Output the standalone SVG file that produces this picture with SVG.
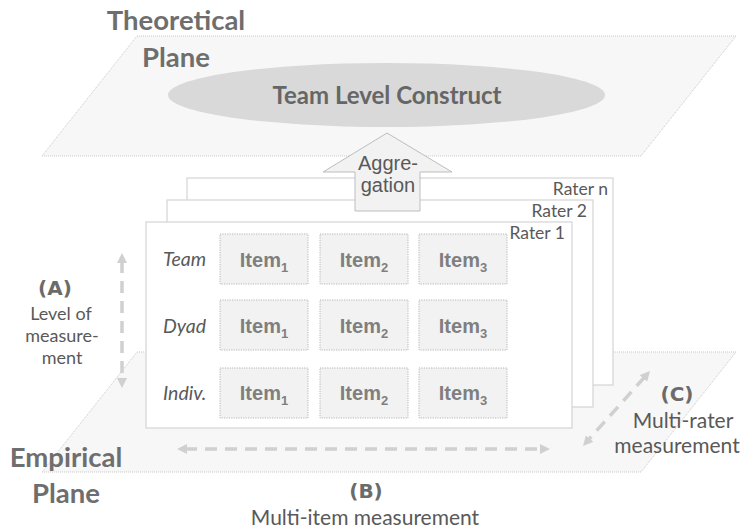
<svg xmlns="http://www.w3.org/2000/svg" width="743" height="530" viewBox="0 0 743 530">
  <style>
    .plane { fill: #f7f7f7; stroke: #c9c9c9; stroke-width: 1; stroke-dasharray: 1 1; }
    .card { fill: #ffffff; stroke: #d4d4d4; stroke-width: 1.2; }
    .item { fill: #f2f2f2; stroke: #b5b5b5; stroke-width: 1; stroke-dasharray: 1.2 1.2; }
    .title { font-family: Lato, "Open Sans", sans-serif; font-weight: bold; font-size: 27.5px; fill: #6e6e6e; text-anchor: middle; }
    .construct { font-family: Lato, "Open Sans", sans-serif; font-weight: bold; font-size: 24px; fill: #666666; text-anchor: middle; }
    .itemtxt { font-family: "Liberation Sans", Arial, sans-serif; font-weight: bold; font-size: 20px; fill: #7f7f7f; text-anchor: middle; }
    .sub { font-size: 13px; }
    .row { font-family: Lato, "Open Sans", sans-serif; font-style: italic; font-size: 19.5px; fill: #595959; }
    .rater { font-family: Lato, "Open Sans", sans-serif; font-size: 17.5px; fill: #595959; text-anchor: end; }
    .agg { font-family: "Liberation Sans", Arial, sans-serif; font-size: 20px; fill: #595959; text-anchor: middle; }
    .key { font-family: "DejaVu Sans", sans-serif; font-weight: bold; font-size: 20px; fill: #6b6b6b; text-anchor: middle; }
    .note { font-family: Lato, "Open Sans", sans-serif; font-size: 21px; fill: #595959; text-anchor: middle; }
    .note-s { font-family: Lato, "Open Sans", sans-serif; font-size: 18px; fill: #595959; text-anchor: middle; }
    .dash { fill: none; stroke: #d0d0d0; stroke-width: 3.5; stroke-dasharray: 12 8; marker-start: url(#head); marker-end: url(#head); }
  </style>
  <defs>
    <marker id="head" viewBox="0 0 10 10" refX="2" refY="5" markerWidth="10" markerHeight="10" markerUnits="userSpaceOnUse" orient="auto-start-reverse">
      <path d="M0,0 L10,5 L0,10 z" fill="#d0d0d0"/>
    </marker>
  </defs>

  <!-- empirical (lower) plane -->
  <g id="empirical-plane">
    <polygon class="plane" points="137,352 736,352 641,472 42,472"/>
    <text class="title" x="66" y="467">Empirical</text>
    <text class="title" x="66" y="503">Plane</text>
  </g>

  <!-- theoretical (upper) plane -->
  <g id="theoretical-plane">
    <polygon class="plane" points="137,36 736,36 641,156 42,156"/>
    <text class="title" x="176" y="30">Theoretical</text>
    <text class="title" x="176" y="67">Plane</text>
  </g>

  <g id="team-construct">
    <ellipse cx="386.5" cy="95" rx="218.5" ry="32" fill="#d9d9d9"/>
    <text class="construct" x="387" y="104">Team Level Construct</text>
  </g>

  <!-- stacked rater sheets, back to front -->
  <g id="rater-n">
    <rect class="card" x="187" y="178" width="426" height="207"/>
    <text class="rater" x="608" y="195">Rater n</text>
  </g>
  <g id="rater-2">
    <rect class="card" x="167" y="200" width="426" height="207"/>
    <text class="rater" x="587" y="217">Rater 2</text>
  </g>
  <g id="rater-1">
    <rect class="card" x="146" y="222" width="426" height="206"/>
    <text class="rater" x="565" y="239">Rater 1</text>

    <g id="row-team">
      <text class="row" x="163" y="266">Team</text>
      <rect class="item" x="220" y="234" width="88" height="50"/>
      <rect class="item" x="320" y="234" width="88" height="50"/>
      <rect class="item" x="419" y="234" width="88" height="50"/>
      <text class="itemtxt" x="264" y="267">Item<tspan class="sub" dy="5">1</tspan></text>
      <text class="itemtxt" x="364" y="267">Item<tspan class="sub" dy="5">2</tspan></text>
      <text class="itemtxt" x="463" y="267">Item<tspan class="sub" dy="5">3</tspan></text>
    </g>
    <g id="row-dyad">
      <text class="row" x="163" y="333">Dyad</text>
      <rect class="item" x="220" y="300" width="88" height="50"/>
      <rect class="item" x="320" y="300" width="88" height="50"/>
      <rect class="item" x="419" y="300" width="88" height="50"/>
      <text class="itemtxt" x="264" y="333">Item<tspan class="sub" dy="5">1</tspan></text>
      <text class="itemtxt" x="364" y="333">Item<tspan class="sub" dy="5">2</tspan></text>
      <text class="itemtxt" x="463" y="333">Item<tspan class="sub" dy="5">3</tspan></text>
    </g>
    <g id="row-indiv">
      <text class="row" x="163" y="400">Indiv.</text>
      <rect class="item" x="220" y="368" width="88" height="50"/>
      <rect class="item" x="320" y="368" width="88" height="50"/>
      <rect class="item" x="419" y="368" width="88" height="50"/>
      <text class="itemtxt" x="264" y="400">Item<tspan class="sub" dy="5">1</tspan></text>
      <text class="itemtxt" x="364" y="400">Item<tspan class="sub" dy="5">2</tspan></text>
      <text class="itemtxt" x="463" y="400">Item<tspan class="sub" dy="5">3</tspan></text>
    </g>
  </g>

  <!-- block arrow from the sheets up to the construct -->
  <g id="aggregation">
    <polygon points="387,133 452,172 420,172 420,211 355,211 355,172 323,172" fill="#f2f2f2" stroke="#bdbdbd" stroke-width="1"/>
    <text class="agg" x="388" y="170">Aggre-</text>
    <text class="agg" x="388" y="192">gation</text>
  </g>

  <!-- measurement axes -->
  <g id="connectors">
    <line class="dash" x1="122" y1="261" x2="122" y2="380"/>
    <line class="dash" x1="185" y1="449" x2="542" y2="449"/>
    <line class="dash" x1="644.7" y1="377" x2="588.3" y2="440"/>
  </g>

  <g id="label-a">
    <text class="key" x="55" y="295">(A)</text>
    <text class="note-s" x="61" y="320">Level of</text>
    <text class="note-s" x="62" y="342">measure-</text>
    <text class="note-s" x="62" y="364">ment</text>
  </g>
  <g id="label-b">
    <text class="key" x="366" y="498">(B)</text>
    <text class="note" x="365" y="525">Multi-item measurement</text>
  </g>
  <g id="label-c">
    <text class="key" x="677" y="401">(C)</text>
    <text class="note" x="683" y="428">Multi-rater</text>
    <text class="note" x="677" y="453">measurement</text>
  </g>
</svg>
